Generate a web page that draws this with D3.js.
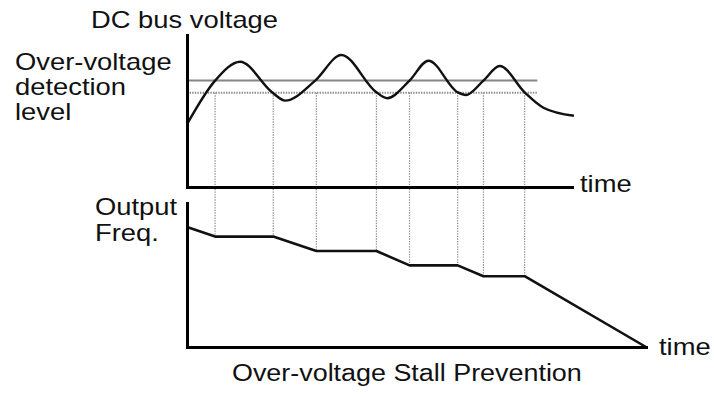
<!DOCTYPE html>
<html>
<head>
<meta charset="utf-8">
<script src="https://cdn.jsdelivr.net/npm/d3@7/dist/d3.min.js"></script>
<style>
  html, body { margin: 0; padding: 0; background: #fff; }
  svg { display: block; }
  text { font-family: "Liberation Sans", Arial, Helvetica, sans-serif; fill: #111; }
</style>
</head>
<body>
<svg id="chart" width="714" height="394"></svg>
<script>
// Time axis (arbitrary units); top plot ends at 10, bottom plot at 12
const timeTopEnd = 10;
const timeBottomEnd = 12;

// DC bus voltage trace (time, voltage in % of scale)
const voltageTime  = [0, 0.73, 1.38, 2.21, 2.55, 3.33, 4.01, 4.92, 5.20, 5.78, 6.27, 7.03, 7.24, 7.70, 8.12, 8.77, 9.27, 10.05];
const voltageValue = [41.3, 70, 82.4, 62.3, 56.8, 70, 86.8, 62.3, 58.4, 70, 83.1, 62.3, 60.5, 70, 79.6, 62.3, 52, 46.9];

// Over-voltage detection level and release level
const detectLevel = 70;
const releaseLevel = 62;
const levelEnd = 9.1;

// Output frequency (time, Hz)
const freqTime  = [0, 0.73, 2.24, 3.36, 4.92, 5.78, 7.03, 7.70, 8.77, 12];
const freqValue = [50, 46, 46, 40, 40, 34, 34, 29.5, 29.5, 0];

// Instants where the stall prevention starts / stops
const markerTime = [0.73, 2.24, 3.36, 4.92, 5.78, 7.03, 7.70, 8.77];

const svg = d3.select("#chart");

const x = d3.scaleLinear().domain([0, timeBottomEnd]).range([187, 646]);
const xTop = d3.scaleLinear().domain([0, timeTopEnd]).range([x(0), 572]);
const yV = d3.scaleLinear().domain([0, 100]).range([187, 35]);
const yF = d3.scaleLinear().domain([0, 60]).range([347, 203]);

const voltage = voltageTime.map((t, i) => ({ t, v: voltageValue[i] }));
const freq = freqTime.map((t, i) => ({ t, v: freqValue[i] }));

// Interpolate the frequency at a given time (piecewise linear)
function freqAt(t) {
  for (let i = 1; i < freq.length; i++) {
    if (t <= freq[i].t) {
      const a = freq[i - 1], b = freq[i];
      return a.v + (b.v - a.v) * (t - a.t) / (b.t - a.t);
    }
  }
  return freq[freq.length - 1].v;
}

// Vertical dotted guide lines
svg.append("g").selectAll("line").data(markerTime).join("line")
  .attr("x1", d => xTop(d)).attr("x2", d => xTop(d))
  .attr("y1", yV(releaseLevel)).attr("y2", d => yF(freqAt(d)))
  .attr("stroke", "#8a8a8a").attr("stroke-width", 1.2)
  .attr("stroke-dasharray", "1.3,1.3");

// Detection level (solid) and release level (dotted)
svg.append("line")
  .attr("x1", xTop(0)).attr("x2", xTop(levelEnd))
  .attr("y1", yV(detectLevel)).attr("y2", yV(detectLevel))
  .attr("stroke", "#858585").attr("stroke-width", 2);
svg.append("line")
  .attr("x1", xTop(0)).attr("x2", xTop(levelEnd))
  .attr("y1", yV(releaseLevel)).attr("y2", yV(releaseLevel))
  .attr("stroke", "#8a8a8a").attr("stroke-width", 1.8)
  .attr("stroke-dasharray", "1.4,1.2");

// Voltage curve
svg.append("path").datum(voltage)
  .attr("fill", "none").attr("stroke", "#111").attr("stroke-width", 2.4)
  .attr("d", d3.line().x(d => xTop(d.t)).y(d => yV(d.v)).curve(d3.curveMonotoneX));

// Frequency curve: same time scale as the top plot up to the last marker, then ramps to the axis end
const freqX = d => d.t <= timeTopEnd ? xTop(d.t) : x(d.t);
svg.append("path").datum(freq)
  .attr("fill", "none").attr("stroke", "#111").attr("stroke-width", 2.6)
  .attr("stroke-linejoin", "round")
  .attr("d", d3.line().x(freqX).y(d => yF(d.v)));

// Axes without ticks
function styleAxis(g) {
  g.select(".domain").attr("stroke", "#000").attr("stroke-width", 3)
    .attr("stroke-linecap", "square");
}
svg.append("g").attr("transform", `translate(0,${yV(0)})`)
  .call(d3.axisBottom(xTop).tickValues([]).tickSizeOuter(0)).call(styleAxis);
svg.append("g").attr("transform", `translate(${xTop(0)},0)`)
  .call(d3.axisLeft(yV).tickValues([]).tickSizeOuter(0)).call(styleAxis);
svg.append("g").attr("transform", `translate(0,${yF(0)})`)
  .call(d3.axisBottom(x).tickValues([]).tickSizeOuter(0)).call(styleAxis);
svg.append("g").attr("transform", `translate(${x(0)},0)`)
  .call(d3.axisLeft(yF).tickValues([]).tickSizeOuter(0)).call(styleAxis);

// Labels
const labels = [
  { text: "DC bus voltage", x: 91, y: 28, s: 1.19 },
  { text: "Over-voltage", x: 15, y: 70, s: 1.19 },
  { text: "detection", x: 15, y: 95, s: 1.19 },
  { text: "level", x: 15, y: 120, s: 1.19 },
  { text: "Output", x: 95, y: 215, s: 1.19 },
  { text: "Freq.", x: 95, y: 241, s: 1.19 },
  { text: "time", x: 580, y: 192, s: 1.19 },
  { text: "time", x: 659, y: 355, s: 1.19 },
  { text: "Over-voltage Stall Prevention", x: 232, y: 381, s: 1.17 }
];
svg.append("g").selectAll("text").data(labels).join("text")
  .attr("transform", d => `translate(${d.x},${d.y}) scale(${d.s},1)`)
  .attr("font-size", 23)
  .text(d => d.text);
</script>
</body>
</html>
